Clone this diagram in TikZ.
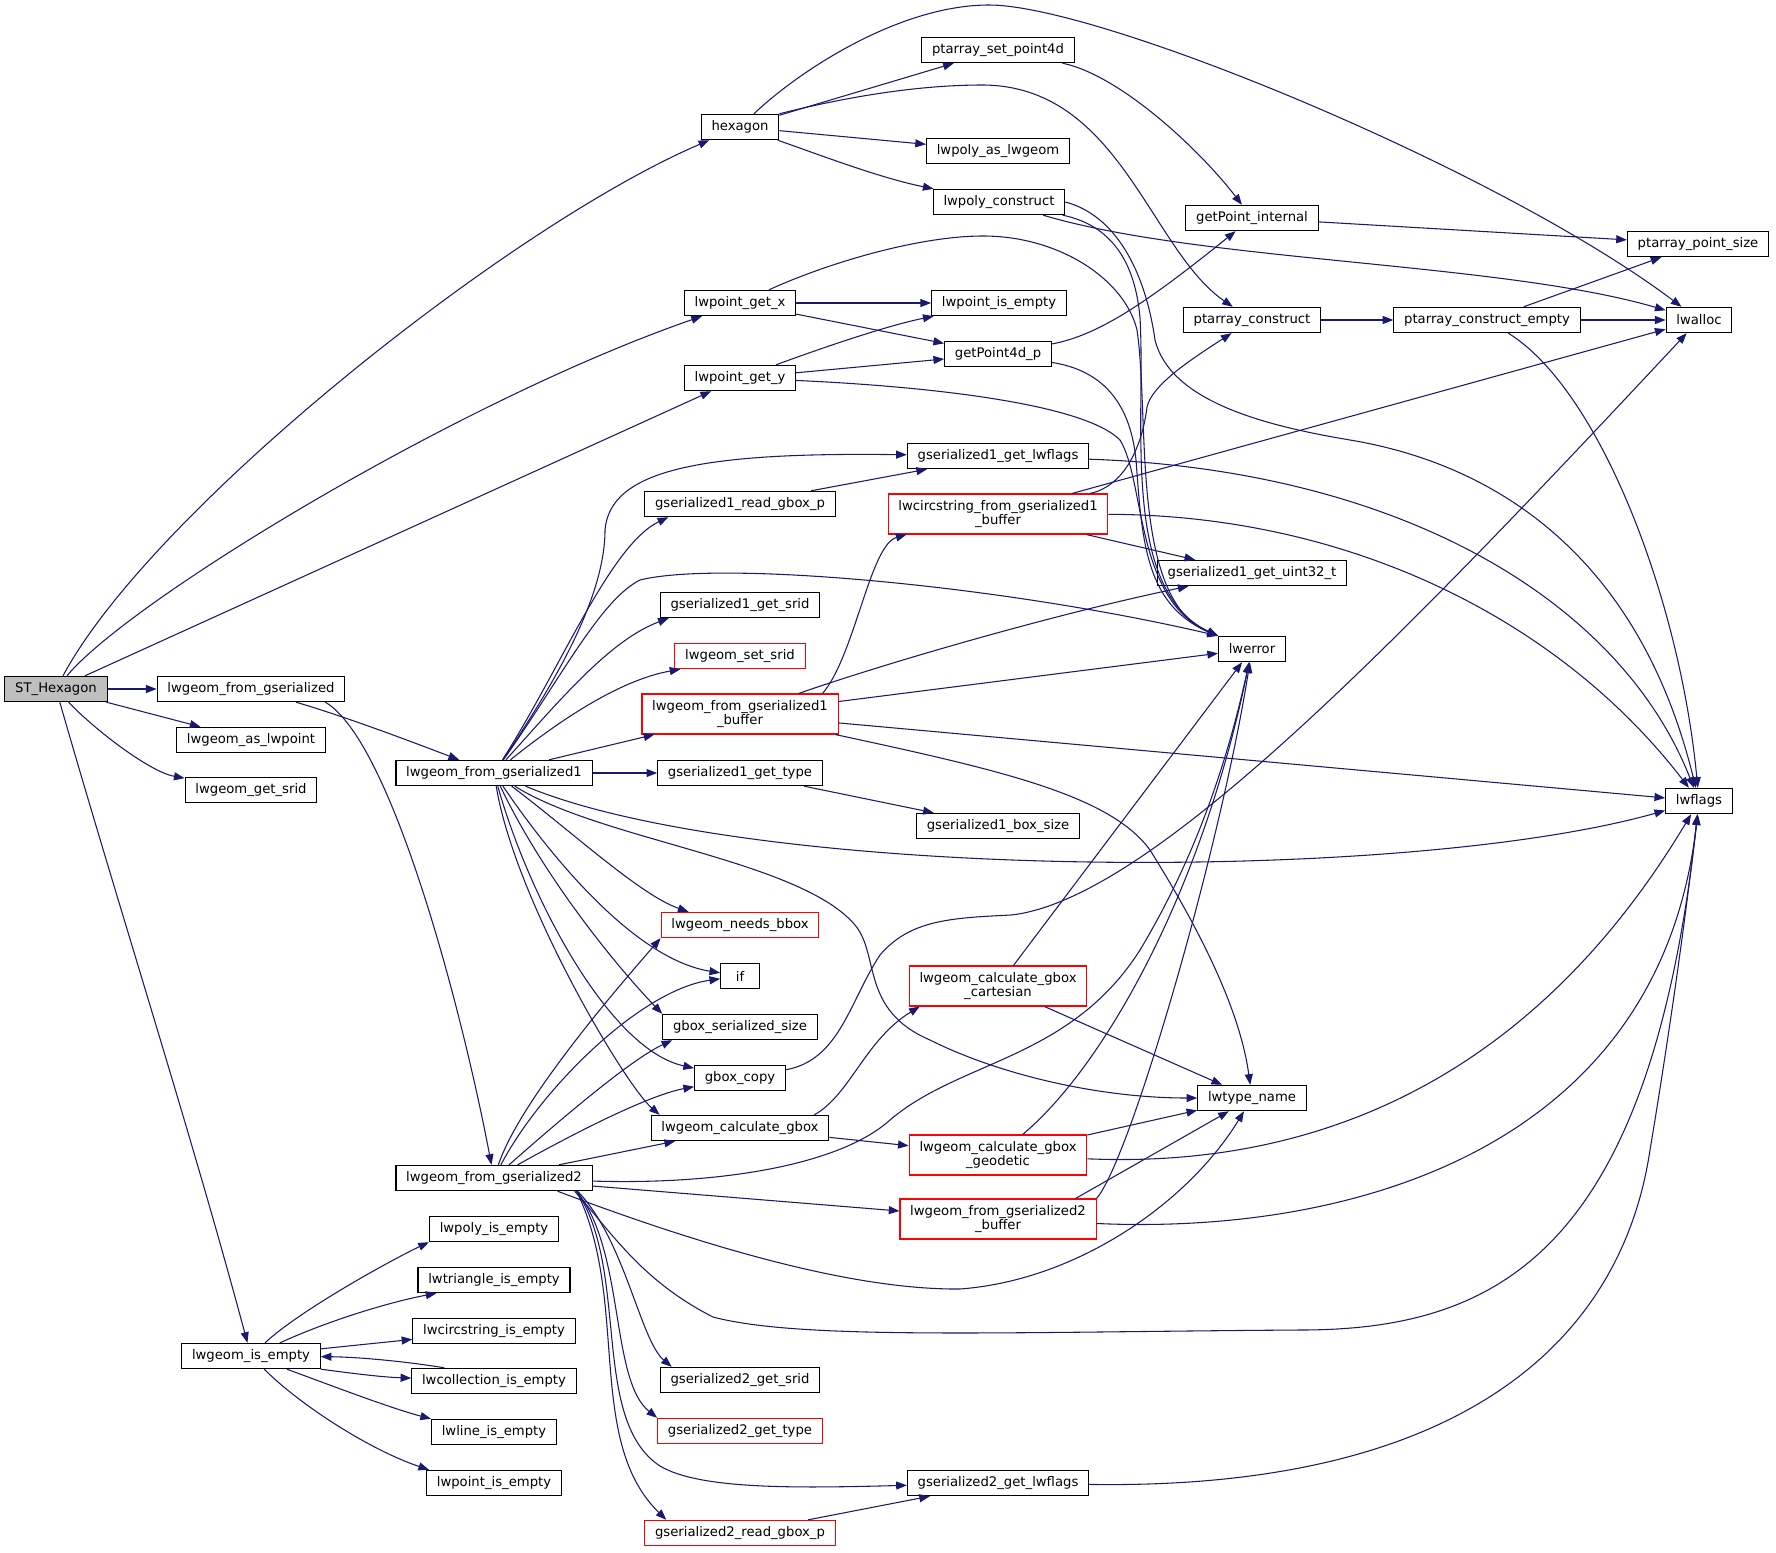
\documentclass[tikz,border=0pt]{standalone}
\usepackage{fontspec}
\newfontfamily\dxfont{DejaVu Sans}
\usetikzlibrary{arrows.meta,calc}

\begin{document}
\begin{tikzpicture}[x=0.75pt,y=-0.75pt]
	\definecolor{xanh}{RGB}{25,25,112}
	\definecolor{do}{RGB}{255,0,0}
	\definecolor{xam}{RGB}{191,191,191}
	\tikzset{
		hop/.style={draw=black,line width=0.8pt,inner xsep=7.7pt,inner ysep=2pt,minimum height=19pt,minimum width=29pt,font=\dxfont\fontsize{9.9}{10.5}\selectfont},
		hopdo/.style={hop,draw=do},
		hai/.style={align=center,minimum height=30pt},
		tro/.style={draw=xanh,line width=0.8pt,-{Triangle[length=8pt,width=6pt]}}
	}
	\useasboundingbox (0,0) rectangle (1776,1552);
	
	%Cot 1
	\node[hop,fill=xam] (st) at (56,689) {ST\_Hexagon};
	
	%Cot 2
	\node[hop] (lfg) at (251,689) {lwgeom\_from\_gserialized};
	\node[hop] (lasp) at (251,740) {lwgeom\_as\_lwpoint};
	\node[hop] (lgs) at (251,790) {lwgeom\_get\_srid};
	\node[hop] (lie) at (251,1356) {lwgeom\_is\_empty};
	
	%Cot 3
	\node[hop] (lfg1) at (494,773) {lwgeom\_from\_gserialized1};
	\node[hop] (lfg2) at (494,1178) {lwgeom\_from\_gserialized2};
	\node[hop] (polye) at (494,1229) {lwpoly\_is\_empty};
	\node[hop] (trie) at (494,1280) {lwtriangle\_is\_empty};
	\node[hop] (circe) at (494,1331) {lwcircstring\_is\_empty};
	\node[hop] (colle) at (494,1381) {lwcollection\_is\_empty};
	\node[hop] (linee) at (494,1432) {lwline\_is\_empty};
	\node[hop] (ptie) at (494,1483) {lwpoint\_is\_empty};
	
	%Cot 4
	\node[hop] (hex) at (740,127) {hexagon};
	\node[hop] (lpx) at (740,303) {lwpoint\_get\_x};
	\node[hop] (lpy) at (740,378) {lwpoint\_get\_y};
	\node[hop] (g1rg) at (740,504) {gserialized1\_read\_gbox\_p};
	\node[hop] (g1srid) at (740,605) {gserialized1\_get\_srid};
	\node[hopdo] (lss) at (740,656) {lwgeom\_set\_srid};
	\node[hopdo,hai] (lfg1b) at (740,714) {lwgeom\_from\_gserialized1\\\_buffer};
	\node[hop] (g1type) at (740,773) {gserialized1\_get\_type};
	\node[hopdo] (lnb) at (740,925) {lwgeom\_needs\_bbox};
	\node[hop] (nif) at (740,976) {if};
	\node[hop] (gss) at (740,1027) {gbox\_serialized\_size};
	\node[hop] (gbc) at (740,1078) {gbox\_copy};
	\node[hop] (lcg) at (740,1128) {lwgeom\_calculate\_gbox};
	\node[hop] (g2srid) at (740,1380) {gserialized2\_get\_srid};
	\node[hopdo] (g2type) at (740,1431) {gserialized2\_get\_type};
	\node[hopdo] (g2rg) at (740,1533) {gserialized2\_read\_gbox\_p};
	
	%Cot 5
	\node[hop] (psp) at (998,50) {ptarray\_set\_point4d};
	\node[hop] (ppal) at (998,151) {lwpoly\_as\_lwgeom};
	\node[hop] (ppc) at (999,202) {lwpoly\_construct};
	\node[hop] (lpie) at (999,303) {lwpoint\_is\_empty};
	\node[hop] (gp4) at (998,354) {getPoint4d\_p};
	\node[hop] (g1lf) at (998,456) {gserialized1\_get\_lwflags};
	\node[hopdo,hai] (lcfb) at (998,514) {lwcircstring\_from\_gserialized1\\\_buffer};
	\node[hop] (g1bs) at (998,826) {gserialized1\_box\_size};
	\node[hopdo,hai] (cart) at (998,986) {lwgeom\_calculate\_gbox\\\_cartesian};
	\node[hopdo,hai] (geod) at (998,1155) {lwgeom\_calculate\_gbox\\\_geodetic};
	\node[hopdo,hai] (lfg2b) at (998,1219) {lwgeom\_from\_gserialized2\\\_buffer};
	\node[hop] (g2lf) at (998,1483) {gserialized2\_get\_lwflags};
	
	%Cot 6
	\node[hop] (gpi) at (1252,218) {getPoint\_internal};
	\node[hop] (pc) at (1252,320) {ptarray\_construct};
	\node[hop] (u32) at (1252,573) {gserialized1\_get\_uint32\_t};
	\node[hop] (lwerr) at (1252,649) {lwerror};
	\node[hop] (ltn) at (1252,1098) {lwtype\_name};
	
	%Cot 7, 8
	\node[hop] (pce) at (1487,320) {ptarray\_construct\_empty};
	\node[hop] (pps) at (1698,244) {ptarray\_point\_size};
	\node[hop] (lwal) at (1699,320) {lwalloc};
	\node[hop] (lwfl) at (1699,801) {lwflags};
	
	%Duong thang
	\foreach \a/\b in {st/lpy, st/lfg, st/lasp,
		hex/psp, hex/ppal,
		lpx/lpie, lpx/gp4, lpy/gp4,
		gpi/pps, pc/pce, pce/pps, pce/lwal,
		g1rg/g1lf, lcfb/lwal, lcfb/u32,
		lfg1/lfg1b, lfg1/g1type, lfg1b/lwerr, lfg1b/lwfl, g1type/g1bs,
		lcg/geod, cart/lwerr, cart/ltn, geod/ltn,
		lfg2/lcg, lfg2/lfg2b, g2rg/g2lf, lie/circe}{
		\draw[tro] (\a) -- (\b);
	}
	
	%ST_Hexagon
	\draw[tro] (st) .. controls (151,511) and (509,226) .. (hex);
	\draw[tro] (st) .. controls (130,600) and (460,400) .. (lpx);
	\draw[tro] (st) .. controls (95,730) and (150,772) .. (lgs);
	\draw[tro] (st) .. controls (121,915) and (190,1129) .. (lie);
	\draw[tro] (lfg) .. controls (350,718) and (420,745) .. (lfg1);
	\draw[tro] ($(lfg.south east)+(-20,0)$) .. controls (390,740) and (460,1000) .. (lfg2);
	
	%hexagon
	\draw[tro] (hex) .. controls (800,70) and (900,5) .. (989,5) .. controls (1100,5) and (1500,170) .. (lwal);
	\draw[tro] (hex.north east) .. controls (850,96) and (920,85) .. (983,85) .. controls (1120,86) and (1150,250) .. (pc);
	\draw[tro] (hex) .. controls (820,155) and (880,178) .. (ppc);
	\draw[tro] (psp) .. controls (1120,75) and (1200,150) .. (gpi);
	\draw[tro] (ppc) .. controls (1200,262) and (1500,262) .. (lwal);
	\draw[tro] (ppc) .. controls (1110,225) and (1135,260) .. (1140,318) .. controls (1146,420) and (1120,590) .. (lwerr.north west);
	\draw[tro] (ppc.east) .. controls (1115,215) and (1145,270) .. (1155,340) .. controls (1170,400) and (1260,425) .. (1350,440) .. controls (1500,465) and (1640,560) .. (lwfl);
	
	%lwpoint
	\draw[tro] (lpx) .. controls (830,262) and (920,236) .. (983,236) .. controls (1060,236) and (1125,280) .. (1137,330) .. controls (1150,420) and (1130,600) .. (lwerr.north west);
	\draw[tro] (lpy) .. controls (830,345) and (890,325) .. (lpie);
	\draw[tro] (lpy) .. controls (900,385) and (1080,400) .. (1120,440) .. controls (1145,480) and (1135,600) .. (lwerr.north west);
	\draw[tro] (gp4) .. controls (1100,335) and (1150,300) .. (gpi);
	\draw[tro] (gp4) .. controls (1100,370) and (1130,400) .. (1136,460) .. controls (1142,540) and (1145,605) .. (lwerr.north west);
	\draw[tro] (pce) .. controls (1600,390) and (1680,600) .. (lwfl);
	\draw[tro] (g1lf) .. controls (1400,470) and (1620,600) .. (lwfl);
	\draw[tro] (lcfb) .. controls (1128,485) and (1143,440) .. (1147,407) .. controls (1152,385) and (1190,360) .. (pc);
	\draw[tro] (lcfb) .. controls (1350,515) and (1560,620) .. (lwfl);
	
	%lwgeom_from_gserialized1
	\draw[tro] (lfg1) .. controls (550,690) and (605,600) .. (605,530) .. controls (610,470) and (700,452) .. (g1lf);
	\draw[tro] (lfg1) .. controls (560,670) and (610,545) .. ($(g1rg.south west)+(24,0)$);
	\draw[tro] (lfg1) .. controls (560,680) and (600,600) .. (640,580) .. controls (720,560) and (1000,585) .. (lwerr.north west);
	\draw[tro] (lfg1) .. controls (560,700) and (610,640) .. ($(g1srid.south west)+(9,0)$);
	\draw[tro] (lfg1) .. controls (560,720) and (620,680) .. ($(lss.south west)+(6,0)$);
	\draw[tro] (lfg1) .. controls (750,880) and (1400,885) .. (lwfl);
	\draw[tro] (lfg1) .. controls (600,840) and (800,860) .. (855,925) .. controls (880,955) and (860,1010) .. (930,1040) .. controls (1000,1075) and (1100,1098) .. (ltn);
	\draw[tro] (lfg1) .. controls (570,830) and (640,895) .. ($(lnb.north west)+(28,0)$);
	\draw[tro] (lfg1) .. controls (560,870) and (640,960) .. (nif);
	\draw[tro] (lfg1) .. controls (545,880) and (620,970) .. (gss.north west);
	\draw[tro] (lfg1) .. controls (530,900) and (610,1050) .. (gbc);
	\draw[tro] (lfg1) .. controls (515,900) and (625,1085) .. ($(lcg.north west)+(9,0)$);
	\draw[tro] ($(lfg1b.north east)+(-16,0)$) .. controls (855,655) and (870,545) .. ($(lcfb.south west)+(19,0)$);
	\draw[tro] (lfg1b) .. controls (880,665) and (1050,615) .. (u32);
	\draw[tro] (lfg1b) .. controls (1000,770) and (1110,795) .. (1150,850) .. controls (1200,930) and (1240,1010) .. (ltn);
	
	%gbox
	\draw[tro] (gbc) .. controls (840,1060) and (850,1000) .. (880,955) .. controls (910,920) and (950,918) .. (1011,915) .. controls (1150,900) and (1400,640) .. (lwal);
	\draw[tro] ($(lcg.north east)+(-15,0)$) .. controls (850,1095) and (865,1040) .. ($(cart.south west)+(11,0)$);
	\draw[tro] (geod) .. controls (1100,1070) and (1200,900) .. (lwerr);
	\draw[tro] (geod) .. controls (1350,1170) and (1550,1050) .. (lwfl);
	\draw[tro] ($(lfg2b.north east)+(-21,0)$) -- (ltn);
	\draw[tro] (lfg2b.north east) .. controls (1130,1160) and (1220,850) .. (lwerr);
	\draw[tro] (lfg2b) .. controls (1350,1235) and (1660,1150) .. (lwfl);
	
	%lwgeom_from_gserialized2
	\draw[tro] (lfg2) .. controls (520,1100) and (620,985) .. (lnb.south west);
	\draw[tro] (lfg2) .. controls (540,1090) and (640,990) .. (nif);
	\draw[tro] (lfg2) .. controls (560,1120) and (630,1060) .. ($(gss.south west)+(10,0)$);
	\draw[tro] (lfg2) .. controls (580,1130) and (650,1095) .. (gbc);
	\draw[tro] (lfg2) .. controls (720,1185) and (840,1165) .. (890,1120) .. controls (960,1060) and (1070,1060) .. (1140,950) .. controls (1200,850) and (1230,750) .. (lwerr);
	\draw[tro] ($(lfg2.south east)+(-35,0)$) .. controls (700,1245) and (850,1290) .. (960,1289) .. controls (1080,1280) and (1190,1200) .. (ltn);
	\draw[tro] ($(lfg2.south east)+(-18,0)$) .. controls (610,1230) and (640,1280) .. (713,1317) .. controls (800,1340) and (1000,1332) .. (1300,1330) .. controls (1500,1330) and (1650,1250) .. (lwfl);
	\draw[tro] ($(lfg2.south east)+(-15,0)$) .. controls (625,1240) and (640,1340) .. ($(g2srid.north west)+(12,0)$);
	\draw[tro] ($(lfg2.south east)+(-16,0)$) .. controls (625,1250) and (610,1380) .. (g2type.north west);
	\draw[tro] ($(lfg2.south east)+(-16,0)$) .. controls (630,1270) and (590,1420) .. (660,1466) .. controls (700,1490) and (800,1488) .. (g2lf);
	\draw[tro] ($(lfg2.south east)+(-16,0)$) .. controls (630,1300) and (585,1440) .. ($(g2rg.north west)+(22,0)$);
	\draw[tro] (g2lf) .. controls (1450,1490) and (1620,1350) .. (1650,1150) .. controls (1675,1000) and (1690,880) .. (lwfl);
	
	%lwgeom_is_empty
	\draw[tro] (lie) .. controls (300,1310) and (395,1258) .. (polye.south west);
	\draw[tro] (lie) .. controls (330,1320) and (390,1302) .. ($(trie.south west)+(19,0)$);
	\draw[tro] (lie.south east) .. controls (350,1373) and (380,1377) .. (colle);
	\draw[tro] ($(colle.north west)+(33,0)$) .. controls (410,1362) and (360,1357) .. (lie);
	\draw[tro] (lie) .. controls (330,1385) and (390,1408) .. (linee.north west);
	\draw[tro] (lie) .. controls (300,1405) and (370,1450) .. ($(ptie.north west)+(3,0)$);
\end{tikzpicture}
\end{document}
